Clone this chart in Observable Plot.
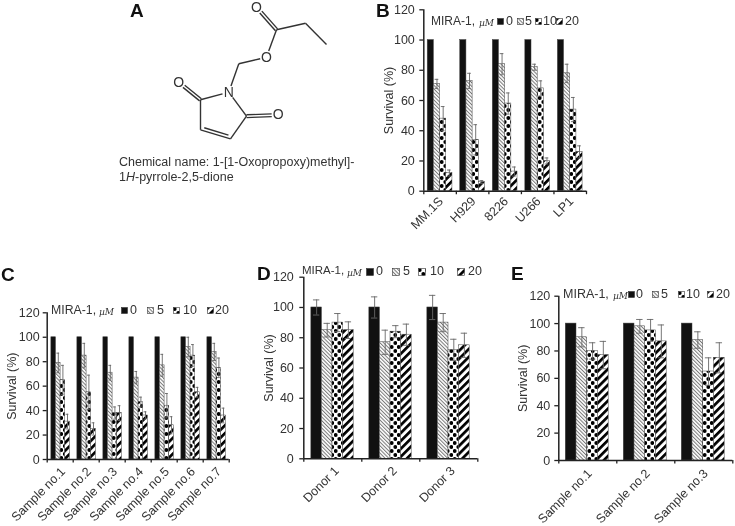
<!DOCTYPE html>
<html><head><meta charset="utf-8">
<script src="https://cdn.jsdelivr.net/npm/d3@7"></script>
<script src="https://cdn.jsdelivr.net/npm/@observablehq/plot@0.6"></script>
<style>
html,body{margin:0;padding:0;background:#fff}
#root{position:relative;width:735px;height:526px;overflow:hidden;font-family:"Liberation Sans",Arial,sans-serif;color:#333;filter:blur(.35px)}
#root>svg,.abs{position:absolute}
.abs{white-space:nowrap;line-height:1}
.letter{font-weight:bold;font-size:19px;color:#111}
.t{font-size:12.5px}
</style></head><body>
<svg width="0" height="0" style="position:absolute">
<defs>
<pattern id="p5" width="2.6" height="2.6" patternUnits="userSpaceOnUse" patternTransform="rotate(-45)"><rect width="2.6" height="2.6" fill="#fff"/><rect width="1" height="2.6" fill="#777"/></pattern>
<pattern id="p10" width="7" height="8" patternUnits="userSpaceOnUse"><rect width="7" height="8" fill="#fff"/><circle cx="1.75" cy="2" r="1.9" fill="#000"/><circle cx="5.25" cy="6" r="1.9" fill="#000"/></pattern>
<pattern id="p20" width="5.6" height="5.6" patternUnits="userSpaceOnUse" patternTransform="rotate(45)"><rect width="5.6" height="5.6" fill="#fff"/><rect width="2.7" height="5.6" fill="#000"/></pattern>
</defs></svg>
<div id="root"></div>
<script>
const doses = ["0","5","10","20"];
const fills = ["#111","url(#p5)","url(#p10)","url(#p20)"];

const groupsB = ["MM.1S","H929","8226","U266","LP1"];
const valuesB = [[100,71,48,12],[100,73,34,6],[100,84,58,13],[100,82,68,20],[100,78,54,26]];
const errorsB = [[0,3,8,2],[0,5,10,1],[0,7,7,3],[0,2,5,2],[0,6,8,4]];

const groupsC = ["Sample no.1","Sample no.2","Sample no.3","Sample no.4","Sample no.5","Sample no.6","Sample no.7"];
const valuesC = [[100,79,65,31],[100,85,55,25],[100,71,38,38],[100,67,47,36],[100,77,44,28],[100,92,85,55],[100,88,75,36]];
const errorsC = [[0,8,12,6],[0,10,14,5],[0,6,5,6],[0,5,4,3],[0,9,10,7],[0,8,9,4],[0,7,8,6]];

const groupsD = ["Donor 1","Donor 2","Donor 3"];
const valuesD = [[100,85,90,85],[100,77,84,82],[100,90,72,75]];
const errorsD = [[5,4.5,6,5.5],[7,8,4,7],[8,6,7,8]];

const groupsE = ["Sample no.1","Sample no.2","Sample no.3"];
const valuesE = [[100,90,80,77],[100,98,95,87],[100,88,65,75]];
const errorsE = [[0,7,6,10],[0,5,8,12],[0,6,10,11]];

const atomsA = [
 {l:"N",x:228.3,y:91.7},{x:200,y:99.3},{l:"O",x:178.3,y:81.7},{x:200,y:129.3},{x:230,y:138.3},
 {x:246,y:115.7},{l:"O",x:277.7,y:114.5},{x:238.3,y:63.3},{l:"O",x:266,y:56.7},{x:276,y:29.3},
 {l:"O",x:256,y:6.7},{x:305,y:22.7},{x:326,y:44}];
const bondsA = [[0,1,1],[1,2,2],[1,3,1],[3,4,2],[4,5,1],[5,0,1],[5,6,2],[0,7,1],[7,8,1],[8,9,1],[9,10,2],[9,11,1],[11,12,1]];

const root = document.getElementById("root");
const put = (html, x, yc, cls, size) => {
  const d = document.createElement("div");
  d.className = "abs " + (cls || "t");
  d.innerHTML = html; d.style.left = x + "px"; d.style.top = yc + "px";
  if (size) d.style.fontSize = size + "px";
  d.style.transform = "translateY(-50%)";
  root.appendChild(d);
};
const swatch = (i, x, yc, s) => {
  const n = "http://www.w3.org/2000/svg";
  const svg = document.createElementNS(n, "svg");
  svg.setAttribute("width", s + 1); svg.setAttribute("height", s + 1);
  svg.style.left = x + "px"; svg.style.top = (yc - s / 2) + "px";
  const r = document.createElementNS(n, "rect");
  r.setAttribute("x", .5); r.setAttribute("y", .5); r.setAttribute("width", s); r.setAttribute("height", s);
  r.setAttribute("fill", fills[i]); r.setAttribute("stroke", "#333"); r.setAttribute("stroke-width", .6);
  svg.appendChild(r); root.appendChild(svg);
};

function panel(o) {
  const rows = [], n = o.groups.length;
  const w = (o.end - o.start) / 4;
  o.groups.forEach((g, gi) => doses.forEach((dose, di) => {
    const c = gi + o.start + (di + .5) * w;
    rows.push({dose, x1: gi + o.start + di * w, x2: gi + o.start + (di + 1) * w, c,
      v: o.values[gi][di], e: o.errors[gi][di], cap: w * .3});
  }));
  const errs = rows.filter(r => r.e > 0);
  const width = o.right - o.left, height = o.bottom - o.top;
  const chart = Plot.plot({
    width, height,
    marginLeft: o.x0 - o.left, marginRight: o.right - o.x1,
    marginTop: o.y1 - o.top, marginBottom: o.bottom - o.y0,
    style: {fontFamily: '"Liberation Sans",Arial,sans-serif', fontSize: "12.5px", color: "#333", overflow: "visible", background: "transparent"},
    x: {domain: [0, n], label: null},
    y: {domain: [0, 120], label: null},
    color: {domain: doses, range: fills},
    marks: [
      Plot.rectY(rows, {x1: "x1", x2: "x2", y1: 0, y2: "v", fill: "dose", stroke: "#444", strokeWidth: .5}),
      Plot.ruleX(errs, {x: "c", y1: r => r.v - r.e, y2: r => r.v + r.e, stroke: "#666", strokeWidth: .9}),
      Plot.ruleY(errs, {y: r => r.v + r.e, x1: r => r.c - r.cap, x2: r => r.c + r.cap, stroke: "#666", strokeWidth: .9}),
      Plot.ruleY(errs, {y: r => r.v - r.e, x1: r => r.c - r.cap, x2: r => r.c + r.cap, stroke: "#666", strokeWidth: .9}),
      Plot.ruleX([0], {stroke: "#222", strokeWidth: 1.5}),
      Plot.ruleY([0], {stroke: "#222", strokeWidth: 1.5}),
      Plot.axisY({ticks: [0,20,40,60,80,100,120], tickSize: 4, tickPadding: o.ypad, stroke: "#222", strokeWidth: 1.3,
        label: "Survival (%)", labelAnchor: "center", labelArrow: "none", labelOffset: o.labelOffset}),
      Plot.axisX({ticks: d3.range(n + 1), tickSize: 3.5, tickFormat: () => "", stroke: "#222", strokeWidth: 1.3, label: null}),
      Plot.axisX({ticks: d3.range(n).map(i => i + .5), tickSize: 0, tickPadding: o.pad, tickRotate: -45, dx: o.dx,
        tickFormat: v => o.groups[v - .5], label: null, lineWidth: 20})
    ]
  });
  chart.style.left = o.left + "px"; chart.style.top = o.top + "px"; chart.style.position = "absolute";
  root.appendChild(chart);

  const L = o.legend;
  put("MIRA-1,", L.x, L.y, "t", L.font);
  put('<i style="font-size:9px;font-family:\'DejaVu Serif\',serif">µM</i>', L.mu, L.y + 1);
  doses.forEach((d, i) => { swatch(i, L.s[i], L.y, L.size); put(d, L.t[i], L.y); });
}

panel({groups: groupsB, values: valuesB, errors: errorsB, left: 370, right: 592, top: 0, bottom: 260,
  x0: 423.3, x1: 586, y0: 190.7, y1: 9.3, start: .12, end: .88, labelOffset: 40, pad: 8, dx: 1, ypad: 5,
  legend: {x: 431, y: 21, mu: 479, font: 12, size: 6, s: [497,517,535,556], t: [506,525,543,565]}});
panel({groups: groupsC, values: valuesC, errors: errorsC, left: 0, right: 235, top: 300, bottom: 526,
  x0: 46.7, x1: 228.7, y0: 459, y1: 312.3, start: .16, end: .87, labelOffset: 40, pad: 10, dx: 3, ypad: 3.5,
  legend: {x: 51, y: 310, mu: 99, font: 12.3, size: 6, s: [121,147,173,207], t: [130,157,183,215]}});
panel({groups: groupsD, values: valuesD, errors: errorsD, left: 250, right: 485, top: 265, bottom: 526,
  x0: 303.3, x1: 477.3, y0: 458.3, y1: 276.7, start: .13, end: .86, labelOffset: 40, pad: 10, dx: 4, ypad: 6,
  legend: {x: 302, y: 271, mu: 347, font: 11.5, size: 7, s: [366,392,418,457], t: [376,403,430,468]}});
panel({groups: groupsE, values: valuesE, errors: errorsE, left: 500, right: 735, top: 285, bottom: 526,
  x0: 558.3, x1: 732.3, y0: 460, y1: 295.7, start: .12, end: .86, labelOffset: 41, pad: 11, dx: 2, ypad: 4.5,
  legend: {x: 563, y: 294, mu: 613, font: 12.5, size: 6, s: [628,652,678,707], t: [636,661,686,716]}});

// Structure of MIRA-1 (panel A)
const segs = [];
bondsA.forEach(([a, b, order]) => {
  const A = atomsA[a], B = atomsA[b];
  const dx = B.x - A.x, dy = B.y - A.y, len = Math.hypot(dx, dy), ux = dx / len, uy = dy / len;
  const sa = A.l ? 6.5 : 0, sb = B.l ? 6.5 : 0;
  const seg = (off, inset) => ({
    x1: A.x + ux * (sa + inset) - uy * off, y1: A.y + uy * (sa + inset) + ux * off,
    x2: B.x - ux * (sb + inset) - uy * off, y2: B.y - uy * (sb + inset) + ux * off});
  if (order === 1) segs.push(seg(0, 0));
  else if (a === 3) { segs.push(seg(0, 0)); segs.push(seg(-3, 3)); }
  else { segs.push(seg(-1.4, 0)); segs.push(seg(1.4, 0)); }
});
const mol = Plot.plot({
  width: 735, height: 200, margin: 0,
  style: {overflow: "visible", background: "transparent"},
  x: {domain: [0, 735], axis: null},
  y: {domain: [200, 0], axis: null},
  marks: [
    Plot.link(segs, {x1: "x1", y1: "y1", x2: "x2", y2: "y2", stroke: "#333", strokeWidth: 1.4}),
    Plot.text(atomsA.filter(d => d.l), {x: "x", y: "y", text: "l", fontSize: 14, fill: "#333",
      fontFamily: '"Liberation Sans",Arial,sans-serif'})
  ]
});
mol.style.position = "absolute"; mol.style.left = "0"; mol.style.top = "0";
root.appendChild(mol);

put("Chemical name: 1-[1-Oxopropoxy)methyl]-", 119, 162);
put("1<i>H</i>-pyrrole-2,5-dione", 119, 177);
put("A", 130, 10, "letter");
put("B", 376, 10, "letter");
put("C", 1, 274, "letter");
put("D", 257, 273, "letter");
put("E", 511, 273, "letter");
</script>
</body></html>
